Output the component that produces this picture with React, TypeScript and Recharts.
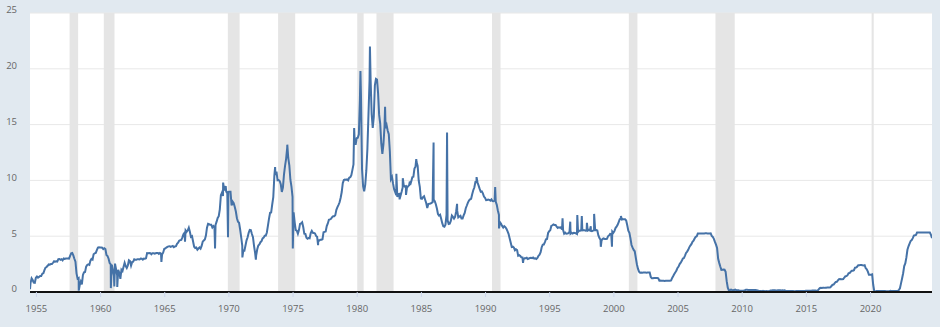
import { LineChart, Line, XAxis, YAxis, CartesianGrid, ReferenceArea } from 'recharts'

// Effective federal funds rate, monthly averages in percent.
// The 1950s row starts in July 1954, the 2020s row ends in October 2024.
const rates1950s = [
  0.8, 1.22, 1.07, 0.85, 0.83, 1.28,
  1.39, 1.29, 1.35, 1.43, 1.43, 1.64, 1.68, 1.96, 2.18, 2.24, 2.35, 2.48,
  2.45, 2.5, 2.5, 2.62, 2.75, 2.71, 2.75, 2.73, 2.95, 2.96, 2.88, 2.94,
  2.84, 3.0, 2.96, 3.0, 3.0, 3.0, 2.99, 3.24, 3.47, 3.5, 3.28, 2.98,
  2.72, 1.67, 1.2, 1.26, 0.63, 0.93, 0.68, 1.53, 1.76, 1.8, 2.27, 2.42,
  2.48, 2.43, 2.8, 2.96, 2.9, 3.39, 3.47, 3.5, 3.76, 3.98, 4.0, 3.99,
]
const rates1960s = [
  3.99, 3.97, 3.84, 3.92, 3.85, 3.32, 3.23, 2.98, 2.6, 2.47, 2.44, 1.98,
  1.45, 2.54, 2.02, 1.49, 1.98, 1.73, 1.17, 2.0, 1.88, 2.26, 2.62, 2.33,
  2.15, 2.37, 2.85, 2.78, 2.36, 2.68, 2.71, 2.93, 2.9, 2.9, 2.94, 2.93,
  2.92, 3.0, 2.98, 2.9, 3.0, 2.99, 3.02, 3.49, 3.48, 3.5, 3.48, 3.38,
  3.48, 3.48, 3.43, 3.47, 3.5, 3.5, 3.42, 3.5, 3.45, 3.36, 3.52, 3.85,
  3.9, 3.98, 4.04, 4.09, 4.1, 4.04, 4.09, 4.12, 4.01, 4.08, 4.1, 4.32,
  4.42, 4.6, 4.65, 4.67, 4.9, 5.17, 5.3, 5.53, 5.4, 5.53, 5.76, 5.4,
  4.94, 5.0, 4.53, 4.05, 3.94, 3.98, 3.79, 3.9, 3.99, 3.88, 4.13, 4.51,
  4.61, 4.71, 5.05, 5.76, 6.11, 6.07, 6.02, 6.03, 5.78, 5.91, 5.82, 6.02,
  6.3, 6.64, 6.79, 7.41, 8.67, 8.9, 8.61, 9.19, 9.15, 9.0, 8.85, 8.97,
]
const rates1970s = [
  8.98, 8.98, 7.76, 8.1, 7.95, 7.61, 7.21, 6.61, 6.29, 6.2, 5.6, 4.9,
  4.14, 3.72, 3.71, 4.16, 4.63, 4.91, 5.31, 5.57, 5.55, 5.2, 4.91, 4.14,
  3.5, 3.29, 3.83, 4.17, 4.27, 4.46, 4.55, 4.8, 4.87, 5.04, 5.06, 5.33,
  5.94, 6.58, 7.09, 7.12, 7.84, 8.49, 10.4, 10.5, 10.78, 10.01, 10.03, 9.95,
  9.65, 8.97, 9.35, 10.51, 11.31, 11.93, 12.92, 12.01, 11.34, 10.06, 9.45, 8.53,
  7.13, 6.24, 5.54, 5.49, 5.22, 5.55, 6.1, 6.14, 6.24, 5.82, 5.22, 5.2,
  4.87, 4.77, 4.84, 4.82, 5.29, 5.48, 5.31, 5.29, 5.25, 5.02, 4.95, 4.65,
  4.61, 4.68, 4.69, 4.73, 5.35, 5.39, 5.42, 5.9, 6.14, 6.47, 6.51, 6.56,
  6.7, 6.78, 6.79, 6.89, 7.36, 7.6, 7.81, 8.04, 8.45, 8.96, 9.76, 10.03,
  10.07, 10.06, 10.09, 10.01, 10.24, 10.29, 10.47, 10.94, 11.43, 13.77, 13.18, 13.78,
]
const rates1980s = [
  13.82, 14.13, 17.19, 17.61, 10.98, 9.47, 9.03, 9.61, 10.87, 12.81, 15.85, 18.9,
  19.08, 15.93, 14.7, 15.72, 18.52, 19.1, 19.04, 17.82, 15.87, 15.08, 13.31, 12.37,
  13.22, 14.78, 14.68, 14.94, 14.45, 14.15, 12.59, 10.12, 10.31, 9.71, 9.2, 8.95,
  8.68, 8.51, 8.77, 8.8, 8.63, 8.98, 9.37, 9.56, 9.45, 9.48, 9.34, 9.47,
  9.56, 9.59, 9.91, 10.29, 10.32, 11.06, 11.23, 11.64, 11.3, 9.99, 9.43, 8.38,
  8.35, 8.5, 8.58, 8.27, 7.97, 7.53, 7.88, 7.9, 7.92, 7.99, 8.05, 8.27,
  8.14, 7.86, 7.48, 6.99, 6.85, 6.92, 6.56, 6.17, 5.89, 5.85, 6.04, 6.91,
  6.43, 6.1, 6.13, 6.37, 6.85, 6.73, 6.58, 6.73, 7.22, 7.29, 6.69, 6.77,
  6.83, 6.58, 6.58, 6.87, 7.09, 7.51, 7.75, 8.01, 8.19, 8.3, 8.35, 8.76,
  9.12, 9.36, 9.85, 9.84, 9.81, 9.53, 9.24, 8.99, 9.02, 8.84, 8.55, 8.45,
]
const rates1990s = [
  8.23, 8.24, 8.28, 8.26, 8.18, 8.29, 8.15, 8.13, 8.2, 8.11, 7.81, 7.31,
  6.91, 6.25, 6.12, 5.91, 5.78, 5.9, 5.82, 5.66, 5.45, 5.21, 4.81, 4.43,
  4.03, 4.06, 3.98, 3.73, 3.82, 3.76, 3.25, 3.3, 3.22, 3.1, 3.09, 2.92,
  3.02, 3.03, 3.07, 2.96, 3.0, 3.04, 3.06, 3.03, 3.09, 2.99, 3.02, 2.96,
  3.05, 3.25, 3.34, 3.56, 4.01, 4.25, 4.26, 4.47, 4.73, 4.76, 5.29, 5.45,
  5.53, 5.92, 5.98, 6.05, 6.01, 6.0, 5.85, 5.74, 5.8, 5.76, 5.8, 5.6,
  5.56, 5.22, 5.31, 5.22, 5.24, 5.27, 5.4, 5.22, 5.3, 5.24, 5.31, 5.29,
  5.25, 5.19, 5.39, 5.51, 5.5, 5.56, 5.52, 5.54, 5.54, 5.5, 5.52, 5.5,
  5.56, 5.51, 5.49, 5.45, 5.49, 5.56, 5.54, 5.55, 5.51, 5.07, 4.83, 4.68,
  4.63, 4.76, 4.81, 4.74, 4.74, 4.76, 4.99, 5.07, 5.22, 5.2, 5.42, 5.3,
]
const rates2000s = [
  5.45, 5.73, 5.85, 6.02, 6.27, 6.53, 6.54, 6.5, 6.52, 6.51, 6.51, 6.4,
  5.98, 5.49, 5.31, 4.8, 4.21, 3.97, 3.77, 3.65, 3.07, 2.49, 2.09, 1.82,
  1.73, 1.74, 1.73, 1.75, 1.75, 1.75, 1.73, 1.74, 1.75, 1.75, 1.34, 1.24,
  1.24, 1.26, 1.25, 1.26, 1.26, 1.22, 1.01, 1.03, 1.01, 1.01, 1.0, 0.98,
  1.0, 1.01, 1.0, 1.0, 1.0, 1.03, 1.26, 1.43, 1.61, 1.76, 1.93, 2.16,
  2.28, 2.5, 2.63, 2.79, 3.0, 3.04, 3.26, 3.5, 3.62, 3.78, 4.0, 4.16,
  4.29, 4.49, 4.59, 4.79, 4.94, 4.99, 5.24, 5.25, 5.25, 5.25, 5.25, 5.24,
  5.25, 5.26, 5.26, 5.25, 5.25, 5.25, 5.26, 5.02, 4.94, 4.76, 4.49, 4.24,
  3.94, 2.98, 2.61, 2.28, 1.98, 2.0, 2.01, 2.0, 1.81, 0.97, 0.39, 0.16,
  0.15, 0.22, 0.18, 0.15, 0.18, 0.21, 0.16, 0.16, 0.15, 0.12, 0.12, 0.12,
]
const rates2010s = [
  0.11, 0.13, 0.16, 0.2, 0.2, 0.18, 0.18, 0.19, 0.19, 0.19, 0.19, 0.18,
  0.17, 0.16, 0.14, 0.1, 0.09, 0.09, 0.07, 0.1, 0.08, 0.07, 0.08, 0.07,
  0.08, 0.1, 0.13, 0.14, 0.16, 0.16, 0.16, 0.13, 0.14, 0.16, 0.16, 0.16,
  0.14, 0.15, 0.14, 0.15, 0.11, 0.09, 0.09, 0.08, 0.08, 0.09, 0.08, 0.09,
  0.07, 0.07, 0.08, 0.09, 0.09, 0.1, 0.09, 0.09, 0.09, 0.09, 0.09, 0.12,
  0.11, 0.11, 0.11, 0.12, 0.12, 0.13, 0.13, 0.14, 0.14, 0.12, 0.12, 0.24,
  0.34, 0.38, 0.36, 0.37, 0.37, 0.38, 0.39, 0.4, 0.4, 0.4, 0.41, 0.54,
  0.65, 0.66, 0.79, 0.9, 0.91, 1.04, 1.15, 1.16, 1.15, 1.15, 1.16, 1.3,
  1.41, 1.42, 1.51, 1.69, 1.7, 1.82, 1.91, 1.91, 1.95, 2.19, 2.2, 2.27,
  2.4, 2.4, 2.41, 2.42, 2.39, 2.38, 2.4, 2.13, 2.04, 1.83, 1.55, 1.55,
]
const rates2020s = [
  1.55, 1.58, 0.65, 0.05, 0.05, 0.08, 0.09, 0.1, 0.09, 0.09, 0.09, 0.09,
  0.09, 0.08, 0.07, 0.07, 0.06, 0.08, 0.1, 0.09, 0.08, 0.08, 0.08, 0.08,
  0.08, 0.08, 0.2, 0.33, 0.77, 1.21, 1.68, 2.33, 2.56, 3.08, 3.78, 4.1,
  4.33, 4.57, 4.65, 4.83, 5.06, 5.08, 5.12, 5.33, 5.33, 5.33, 5.33, 5.33,
  5.33, 5.33, 5.33, 5.33, 5.33, 5.33, 5.33, 5.33, 5.13, 4.83,
]

// single-week highs and lows that stand out of the monthly line
const spikeDates = [
  1954.5, 1958.3, 1960.8, 1961.07, 1961.3, 1964.74, 1966.58, 1968.92, 1969.55,
  1969.75, 1969.93, 1971.05, 1972.1, 1973.6, 1974.55, 1974.98, 1976.95, 1979.76,
  1980.25, 1980.99, 1982.17, 1983.05, 1983.3, 1983.55, 1983.8, 1984.1, 1984.6,
  1985.95, 1987.0, 1987.78, 1989.3, 1990.75, 1991.05, 1992.92, 1996.0, 1996.6,
  1997.15, 1997.5, 1997.9, 1998.2, 1998.46, 1998.98, 1999.85, 2000.55,
]
const spikeRates = [
  0.25, 0.12, 0.35, 0.5, 0.45, 2.7, 4.5, 3.9, 9.8,
  9.5, 4.9, 3.1, 2.9, 11.2, 13.2, 3.9, 4.2, 14.7,
  19.8, 22.0, 16.6, 10.6, 8.3, 10.2, 8.7, 9.9, 11.9,
  13.4, 14.3, 7.9, 10.3, 9.4, 5.7, 2.6, 6.6, 6.3,
  6.9, 6.8, 6.2, 5.9, 7.0, 4.05, 4.05, 6.8,
]

// NBER recessions, peak month to trough month
const recessionStarts = ['1957-08', '1960-04', '1969-12', '1973-11', '1980-01', '1981-07', '1990-07', '2001-03', '2007-12', '2020-02']
const recessionEnds = ['1958-04', '1961-02', '1970-11', '1975-03', '1980-07', '1982-11', '1991-03', '2001-11', '2009-06', '2020-04']

const xTicks = [1955, 1960, 1965, 1970, 1975, 1980, 1985, 1990, 1995, 2000, 2005, 2010, 2015, 2020]
const yTicks = [0, 5, 10, 15, 20, 25]

const toYear = (s: string) => Number(s.slice(0, 4)) + (Number(s.slice(5)) - 1) / 12

const series = [
  { start: 1954.5, values: rates1950s },
  { start: 1960, values: rates1960s },
  { start: 1970, values: rates1970s },
  { start: 1980, values: rates1980s },
  { start: 1990, values: rates1990s },
  { start: 2000, values: rates2000s },
  { start: 2010, values: rates2010s },
  { start: 2020, values: rates2020s },
]

const chartData: { t: number; rate: number }[] = []
series.forEach((s) =>
  s.values.forEach((v, i) => chartData.push({ t: s.start + (i + 0.5) / 12, rate: v }))
)
spikeDates.forEach((t, i) => chartData.push({ t, rate: spikeRates[i] }))
chartData.sort((a, b) => a.t - b.t)

const tickStyle = { fontSize: 9.5, fill: '#666', fontFamily: '"Open Sans", sans-serif' }

export default function App() {
  return (
    <div style={{ width: 940, height: 327, background: '#e1e9f0' }}>
      <style>{'body{margin:0}'}</style>
      <LineChart
        width={940}
        height={327}
        data={chartData}
        margin={{ top: 13, right: 8, bottom: 0, left: 0 }}
      >
        <CartesianGrid vertical={false} stroke="#e8e8e8" fill="#ffffff" />
        {recessionStarts.map((s, i) => (
          <ReferenceArea
            key={s}
            x1={toYear(s)}
            x2={toYear(recessionEnds[i])}
            fill="#e5e5e5"
            fillOpacity={1}
            stroke="none"
          />
        ))}
        <XAxis
          dataKey="t"
          type="number"
          domain={[1954.5, 2024.79]}
          ticks={xTicks}
          allowDataOverflow
          height={35}
          axisLine={{ stroke: '#111', strokeWidth: 2 }}
          tickLine={{ stroke: '#ccd6eb' }}
          tickSize={5}
          tickMargin={8}
          tick={tickStyle}
        />
        <YAxis
          type="number"
          domain={[0, 25]}
          ticks={yTicks}
          width={30}
          axisLine={false}
          tickLine={false}
          tickSize={0}
          tickMargin={13}
          tick={{ ...tickStyle, dy: -3 }}
        />
        <Line
          type="linear"
          dataKey="rate"
          stroke="#4572a7"
          strokeWidth={2}
          dot={false}
          isAnimationActive={false}
        />
      </LineChart>
    </div>
  )
}
